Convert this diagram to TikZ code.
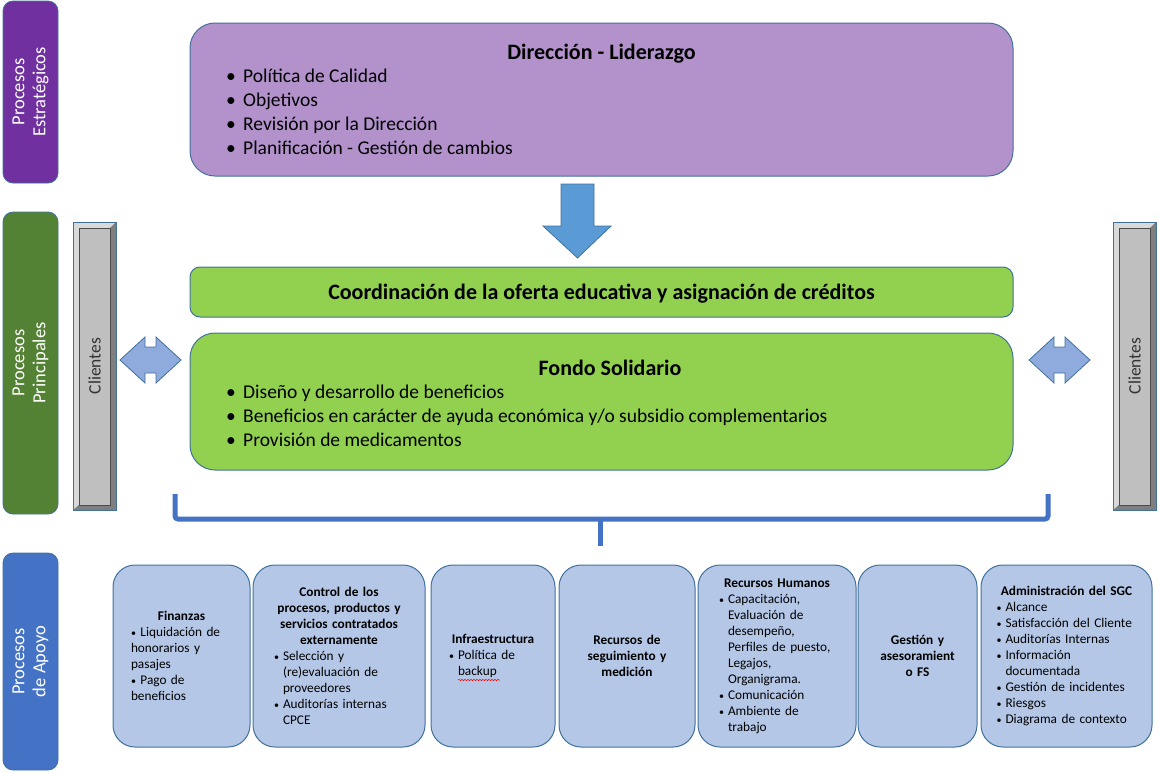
\documentclass[tikz,border=0pt]{standalone}
\usepackage{fontspec}
\setmainfont{Carlito}
\usetikzlibrary{decorations.pathmorphing}

\definecolor{estrat}{HTML}{7030A0}
\definecolor{princ}{HTML}{548235}
\definecolor{apoyoside}{HTML}{4472C4}
\definecolor{dirfill}{HTML}{B392CC}
\definecolor{verde}{HTML}{92D050}
\definecolor{apoyofill}{HTML}{B4C7E7}
\definecolor{bordeblue}{HTML}{41719C}
\definecolor{flecha}{HTML}{8FAADC}
\definecolor{flechabaja}{HTML}{5B9BD5}
\definecolor{llave}{HTML}{4472C4}
\definecolor{clgray}{HTML}{BFBFBF}
\definecolor{cllight}{HTML}{D9D9D9}
\definecolor{cldark}{HTML}{7F7F7F}

\newcommand\pto{{\fontsize{10}{10}\selectfont\textbullet}}
\newcommand\bitem[1]{\par\hangindent=9pt\hangafter=1\noindent\hbox to 9pt{\pto\hfil}#1\par}

\begin{document}
\begin{tikzpicture}[x=1pt, y=-1pt,
  every node/.style={inner sep=0pt},
  side/.style={draw=bordeblue, line width=0.8pt, rounded corners=10, text=white, align=center,
    rotate=90, minimum height=55, font=\fontsize{18.5}{21}\selectfont},
  bigbox/.style={draw=bordeblue, line width=1pt, minimum width=823},
  bul/.style={anchor=base west, font=\fontsize{19.5}{22}\selectfont},
  title/.style={anchor=base, font=\fontsize{22}{24}\selectfont\bfseries},
  apoyo/.style={draw=bordeblue, line width=1pt, fill=apoyofill, rounded corners=22,
    minimum height=182, font=\fontsize{13.3}{16}\selectfont},
  dblarrow/.style={fill=flecha, draw=bordeblue, line width=0.8pt},
]
\useasboundingbox (0,0) rectangle (1159,772);

% column of process labels
\node[side, fill=estrat, minimum width=182] (est) at (30.5,92) {Procesos\\Estratégicos};
\node[side, fill=princ, minimum width=302] (pri) at (30.5,363) {Procesos\\Principales};
\node[side, fill=apoyoside, minimum width=217] (apo) at (30.5,661.5) {Procesos\\de Apoyo};

% clients bars on both sides
\foreach \cx/\nm in {73/cliL, 1113/cliR} {
  \fill[clgray] (\cx,222) rectangle (\cx+43,510);
  \fill[cllight] (\cx,222) -- (\cx+43,222) -- (\cx+37,228) -- (\cx+6,228) -- (\cx+6,505) -- (\cx,510) -- cycle;
  \fill[cldark] (\cx+43,222) -- (\cx+43,510) -- (\cx,510) -- (\cx+6,505) -- (\cx+37,505) -- (\cx+37,228) -- cycle;
  \draw[gray!60!black, line width=0.4pt] (\cx+6,228) rectangle (\cx+37,505);
  \draw[bordeblue, line width=0.8pt] (\cx,222) rectangle (\cx+43,510);
  \node[rotate=90, text=black!80, font=\fontsize{17.5}{18}\selectfont] (\nm) at (\cx+21.5,366) {Clientes};
}

% strategic block
\node[bigbox, fill=dirfill, rounded corners=25, minimum height=153] (dir) at (601.5,99.5) {};
\node[title] (dirT) at (601.5,59) {Dirección - Liderazgo};
\foreach \t [count=\i] in {Política de Calidad, Objetivos, Revisión por la Dirección, Planificación - Gestión de cambios}
  \node[bul] (dir\i) at (226,58+24*\i) {\hbox to 17pt{\textbullet\hfil}\t};

% arrow down
\draw[fill=flechabaja, draw=bordeblue, line width=0.8pt] (561,184) -- (594,184) -- (594,226) -- (611,226)
  -- (577.5,258) -- (543,226) -- (561,226) -- cycle;

% main processes
\node[bigbox, fill=verde, rounded corners=10, minimum height=50] (coord) at (601.5,292) {};
\node[title] (coordT) at (601.5,299) {Coordinación de la oferta educativa y asignación de créditos};
\node[bigbox, fill=verde, rounded corners=25, minimum height=137] (fondo) at (601.5,401.5) {};
\node[title] (fondoT) at (610,375) {Fondo Solidario};
\foreach \t [count=\i] in {Diseño y desarrollo de beneficios, {Beneficios en carácter de ayuda económica y/o subsidio complementarios}, Provisión de medicamentos}
  \node[bul] (fondo\i) at (226,374+24*\i) {\hbox to 17pt{\textbullet\hfil}\t};

% double arrows to the clients
\foreach \ax in {120,1029}
  \draw[dblarrow] (\ax,360) -- (\ax+25,337) -- (\ax+25,347) -- (\ax+36,347) -- (\ax+36,337) -- (\ax+61,360)
    -- (\ax+36,383) -- (\ax+36,373) -- (\ax+25,373) -- (\ax+25,383) -- cycle;

% brace
\draw[llave, line width=5pt, rounded corners=3] (175,494) -- (175,519) -- (1048,519) -- (1048,494);
\draw[llave, line width=5pt] (600,519) -- (600,546);

% support processes
\node[apoyo, minimum width=137, text width=101, align=left] (fin) at (181.5,656) {%
  {\centering\bfseries Finanzas\par}
  \pto\ Liquidación de\\honorarios y\\pasajes\\\pto\ Pago de\\beneficios};
\node[apoyo, minimum width=172, text width=130, align=left] (ctrl) at (339,656) {%
  {\centering\bfseries Control de los\\procesos, productos y\\servicios contratados\\externamente\par}
  \bitem{Selección y\newline(re)evaluación de\newline proveedores}
  \bitem{Auditorías internas\newline CPCE}};
\node[apoyo, minimum width=124, text width=88, align=left] (infra) at (493,656) {%
  {\centering\bfseries Infraestructura\par}
  \bitem{Política de\newline backup}};
\node[apoyo, minimum width=136, text width=112, align=center, font=\fontsize{13.3}{16}\selectfont\bfseries] (segui) at (627,656)
  {Recursos de\\seguimiento y\\medición};
\node[apoyo, minimum width=158, text width=116, align=left] (rrhh) at (777,656) {%
  {\centering\bfseries Recursos Humanos\par}
  \bitem{Capacitación,\newline Evaluación de\newline desempeño,\newline Perfiles de puesto,\newline Legajos,\newline Organigrama.}
  \bitem{Comunicación}
  \bitem{Ambiente de\newline trabajo}};
\node[apoyo, minimum width=119, text width=104, align=center, font=\fontsize{13.3}{16}\selectfont\bfseries] (gest) at (917.5,656)
  {Gestión y\\asesoramient\\o FS};
\node[apoyo, minimum width=171, text width=140, align=left] (sgc) at (1066.5,656) {%
  {\centering\bfseries Administración del SGC\par}
  \bitem{Alcance}
  \bitem{Satisfacción del Cliente}
  \bitem{Auditorías Internas}
  \bitem{Información\newline documentada}
  \bitem{Gestión de incidentes}
  \bitem{Riesgos}
  \bitem{Diagrama de contexto}};
\draw[red, line width=0.5pt, decorate, decoration={snake, amplitude=0.7pt, segment length=3pt}] (458,680) -- (500,680);
\end{tikzpicture}
\end{document}
